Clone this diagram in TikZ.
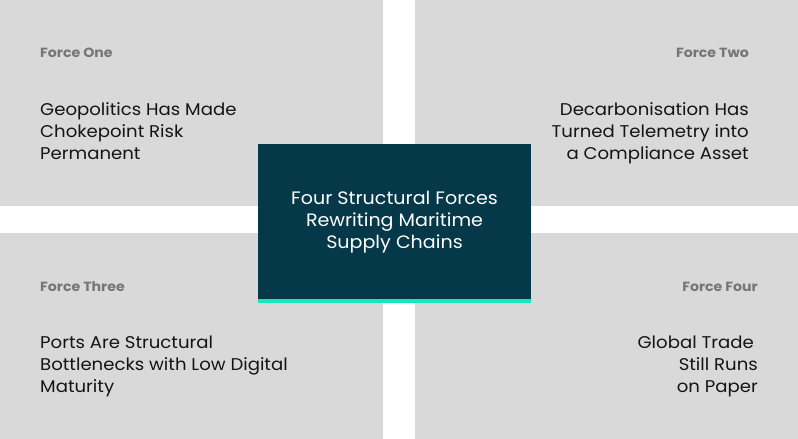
\documentclass[tikz,border=0pt]{standalone}
\usepackage{fontspec}
\setmainfont{Poppins}
\newfontfamily\wideface[FakeStretch=1.065]{Poppins}
\newfontfamily\coreface[FakeStretch=1.06]{Poppins}
\definecolor{quadgrey}{HTML}{D9D9D9}
\definecolor{corenavy}{HTML}{053848}
\definecolor{accentteal}{HTML}{16E6BF}
\definecolor{labelgrey}{HTML}{767676}
\definecolor{titleink}{HTML}{141414}
\tikzset{
  quadbox/.style={fill=quadgrey, draw=none, inner sep=0pt, minimum width=383pt, minimum height=206pt},
  forcelabel/.style={text=labelgrey, inner sep=0pt, font=\wideface\fontsize{13.3}{16}\selectfont\bfseries},
  forcetitle/.style={text=titleink, inner sep=0pt, font=\wideface\fontsize{17}{22}\selectfont},
  coretext/.style={text=white, inner sep=0pt, align=center, font=\coreface\fontsize{18}{22}\selectfont}
}
\begin{document}
\begin{tikzpicture}[x=1pt,y=-1pt]
\useasboundingbox (0,0) rectangle (798,439);
\fill[white] (0,0) rectangle (798,439);
\node[quadbox, anchor=north west] (q1) at (0,0) {};
\node[quadbox, anchor=north west] (q2) at (415,0) {};
\node[quadbox, anchor=north west] (q3) at (0,233) {};
\node[quadbox, anchor=north west] (q4) at (415,233) {};
\node[fill=corenavy, inner sep=0pt, minimum width=273pt, minimum height=155pt, anchor=north west] (core) at (258,144) {};
\fill[accentteal] (258,299) rectangle (531,303);
\node[coretext, anchor=base] (coretitle) at (394.5,248) {Four Structural Forces\\Rewriting Maritime\\Supply Chains};
\node[forcelabel, anchor=base west] (l1) at (40,57) {Force One};
\node[forcelabel, anchor=base east] (l2) at (749,57) {Force Two};
\node[forcelabel, anchor=base west] (l3) at (40,291) {Force Three};
\node[forcelabel, anchor=base east] (l4) at (758,291) {Force Four};
\node[forcetitle, align=left, anchor=base west] (t1) at (40,159) {Geopolitics Has Made\\Chokepoint Risk\\Permanent};
\node[forcetitle, align=right, anchor=base east] (t2) at (749,159) {Decarbonisation Has\\Turned Telemetry into\\a Compliance Asset};
\node[forcetitle, align=left, anchor=base west] (t3) at (40,392) {Ports Are Structural\\Bottlenecks with Low Digital\\Maturity};
\node[forcetitle, align=right, anchor=base east] (t4) at (758,392) {Global Trade\hspace*{4pt}\\Still Runs\hspace*{4pt}\\on Paper};
\end{tikzpicture}
\end{document}
